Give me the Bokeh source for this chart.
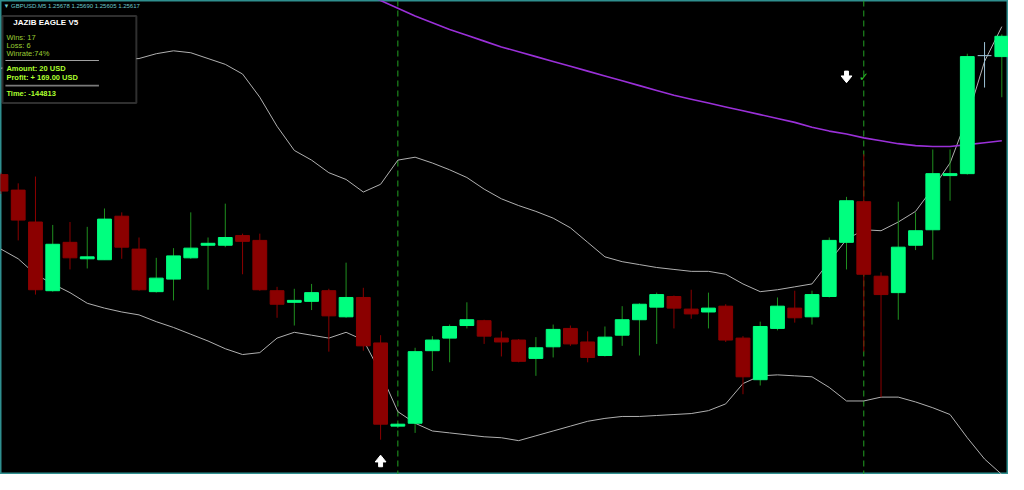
from bokeh.plotting import figure
from bokeh.models import Range1d, Span, BoxAnnotation, Label
from bokeh.core.properties import value
from bokeh.embed import file_html
from bokeh.resources import INLINE

# ---------------- data (GBPUSD M5) ----------------
idx = list(range(59))
open_ = [1.25910, 1.25894, 1.25861, 1.25790, 1.25840, 1.25823, 1.25822, 1.25867, 1.25833, 1.25789,
         1.25802, 1.25824, 1.25837, 1.25837, 1.25847, 1.25842, 1.25790, 1.25778, 1.25779, 1.25790,
         1.25763, 1.25783, 1.25736, 1.25650, 1.25653, 1.25728, 1.25741, 1.25754, 1.25759, 1.25741,
         1.25739, 1.25720, 1.25732, 1.25751, 1.25737, 1.25723, 1.25744, 1.25760, 1.25773, 1.25784,
         1.25771, 1.25768, 1.25774, 1.25741, 1.25698, 1.25751, 1.25772, 1.25763, 1.25784, 1.25840,
         1.25882, 1.25805, 1.25788, 1.25837, 1.25853, 1.25909, 1.25911, 1.26033, 1.26032]
high = [1.25912, 1.25901, 1.25908, 1.25858, 1.25861, 1.25856, 1.25875, 1.25871, 1.25845, 1.25824,
        1.25834, 1.25871, 1.25845, 1.25880, 1.25849, 1.25849, 1.25794, 1.25792, 1.25797, 1.25792,
        1.25819, 1.25793, 1.25744, 1.25653, 1.25731, 1.25743, 1.25755, 1.25778, 1.25760, 1.25748,
        1.25740, 1.25742, 1.25755, 1.25754, 1.25748, 1.25753, 1.25774, 1.25777, 1.25788, 1.25785,
        1.25791, 1.25788, 1.25776, 1.25743, 1.25758, 1.25783, 1.25790, 1.25790, 1.25845, 1.25887,
        1.25931, 1.25809, 1.25882, 1.25871, 1.25936, 1.25936, 1.26035, 1.26047, 1.26055]
low = [1.25890, 1.25842, 1.25786, 1.25789, 1.25812, 1.25813, 1.25822, 1.25823, 1.25790, 1.25788,
       1.25780, 1.25823, 1.25791, 1.25835, 1.25807, 1.25790, 1.25762, 1.25754, 1.25770, 1.25727,
       1.25762, 1.25728, 1.25636, 1.25648, 1.25643, 1.25707, 1.25716, 1.25751, 1.25735, 1.25722,
       1.25716, 1.25702, 1.25721, 1.25733, 1.25716, 1.25722, 1.25733, 1.25723, 1.25735, 1.25751,
       1.25761, 1.25751, 1.25737, 1.25683, 1.25692, 1.25749, 1.25757, 1.25755, 1.25783, 1.25812,
       1.25727, 1.25680, 1.25760, 1.25832, 1.25822, 1.25883, 1.25910, 1.26000, 1.25990]
close = [1.25893, 1.25863, 1.25791, 1.25838, 1.25824, 1.25825, 1.25864, 1.25835, 1.25791, 1.25803,
         1.25826, 1.25834, 1.25839, 1.25845, 1.25841, 1.25791, 1.25776, 1.25780, 1.25788, 1.25764,
         1.25783, 1.25733, 1.25652, 1.25652, 1.25727, 1.25739, 1.25753, 1.25760, 1.25743, 1.25737,
         1.25717, 1.25731, 1.25750, 1.25735, 1.25721, 1.25742, 1.25760, 1.25776, 1.25786, 1.25772,
         1.25766, 1.25772, 1.25739, 1.25701, 1.25753, 1.25774, 1.25762, 1.25786, 1.25842, 1.25883,
         1.25807, 1.25786, 1.25835, 1.25852, 1.25911, 1.25911, 1.26032, 1.26033, 1.26053]

bb_upper = [1.26020, 1.26022, 1.26024, 1.26026, 1.26026, 1.26027, 1.26028, 1.26029, 1.26030, 1.26035,
            1.26038, 1.26036, 1.26030, 1.26024, 1.26014, 1.25990, 1.25960, 1.25935, 1.25925, 1.25912,
            1.25905, 1.25892, 1.25900, 1.25925, 1.25928, 1.25922, 1.25915, 1.25907, 1.25895, 1.25885,
            1.25878, 1.25872, 1.25865, 1.25855, 1.25840, 1.25825, 1.25820, 1.25817, 1.25814, 1.25812,
            1.25810, 1.25810, 1.25807, 1.25797, 1.25789, 1.25791, 1.25794, 1.25797, 1.25820, 1.25843,
            1.25853, 1.25852, 1.25861, 1.25872, 1.25896, 1.25922, 1.25969, 1.26027, 1.26063]
bb_lower = [1.25833, 1.25823, 1.25807, 1.25797, 1.25788, 1.25777, 1.25772, 1.25768, 1.25765, 1.25758,
            1.25752, 1.25745, 1.25738, 1.25730, 1.25724, 1.25726, 1.25741, 1.25747, 1.25744, 1.25741,
            1.25747, 1.25739, 1.25705, 1.25665, 1.25653, 1.25645, 1.25643, 1.25641, 1.25639, 1.25638,
            1.25635, 1.25640, 1.25645, 1.25650, 1.25655, 1.25658, 1.25660, 1.25660, 1.25661, 1.25662,
            1.25663, 1.25666, 1.25673, 1.25694, 1.25702, 1.25703, 1.25702, 1.25701, 1.25690, 1.25676,
            1.25676, 1.25680, 1.25680, 1.25675, 1.25669, 1.25662, 1.25638, 1.25616, 1.25600]

ma_idx = list(range(21, 59))
ma_val = [1.26097, 1.26090, 1.26082, 1.26074, 1.26067, 1.26060, 1.26054, 1.26048, 1.26042, 1.26037,
          1.26032, 1.26027, 1.26022, 1.26017, 1.26012, 1.26007, 1.26002, 1.25997, 1.25992, 1.25988,
          1.25984, 1.25980, 1.25976, 1.25972, 1.25968, 1.25964, 1.25959, 1.25955, 1.25952, 1.25948,
          1.25945, 1.25942, 1.25940, 1.25939, 1.25939, 1.25941, 1.25943, 1.25945]

buy_idx = [22]
buy_tip = [1.25620]
sell_idx = [49]
sell_tip = [1.26005]
entry_idx = [23, 50]
win_idx = [50]
win_level = [1.26011]

header_text = "\u25bc GBPUSD.M5  1.25678 1.25690 1.25605 1.25617"
panel_title = "JAZIB EAGLE V5"
stat_lines = ["Wins: 17", "Loss: 6", "Winrate:74%"]
money_lines = ["Amount: 20 USD", "Profit: + 169.00 USD"]
time_line = "Time:  -144813"

# ---------------- styling / helpers ----------------
BULL = "#00ff7f"
BULL_WICK = "#1f8f1f"
BEAR = "#8b0000"
DOJI = "#9ec4d8"
BAND = "#b0b0b0"
MA_COL = "#9a30d8"
PX_PER_BAR = 17.53
PX0 = 0.47
PRICE_TOP = 1.26090
PRICE_PER_PX = 0.00001


def px2x(px):
    return (px - PX0) / PX_PER_BAR


def py2y(py):
    return PRICE_TOP - py * PRICE_PER_PX


W, H = 1008, 474
p = figure(width=W, height=H, output_backend="svg", toolbar_location=None,
           x_range=Range1d(px2x(0), px2x(1024)), y_range=Range1d(py2y(490), py2y(0)),
           x_axis_location=None, y_axis_location=None, min_border=0,
           background_fill_color="black", border_fill_color="black")
p.grid.visible = False
p.outline_line_color = "#2f8f8f"
p.outline_line_width = 2

# entry lines (behind candles)
for k in entry_idx:
    p.add_layout(Span(location=k, dimension="height", line_color="#22a022",
                      line_dash="6 4", line_width=1, level="underlay"))

# bands and moving average
p.line(idx, bb_upper, line_color=BAND, line_width=1)
p.line(idx, bb_lower, line_color=BAND, line_width=1)
p.line(ma_idx, ma_val, line_color=MA_COL, line_width=1.6)

# candles
for k in idx:
    o, h, l, c = open_[k], high[k], low[k], close[k]
    if c > o:
        body, wick = BULL, BULL_WICK
    elif c < o:
        body, wick = BEAR, BEAR
    else:
        body, wick = DOJI, DOJI
    p.segment(x0=[k], y0=[l], x1=[k], y1=[h], line_color=wick, line_width=1)
    if c == o:
        p.segment(x0=[k - 0.4], y0=[o], x1=[k + 0.4], y1=[o], line_color=body, line_width=1)
    else:
        p.vbar(x=[k], width=0.8, top=[max(o, c)], bottom=[min(o, c)],
               fill_color=body, line_color=body if c < o else BULL, line_width=1)

# signal arrows
HEAD_W = 5.5 / PX_PER_BAR
SHAFT_W = 2.0 / PX_PER_BAR
HEAD_H = 7 * PRICE_PER_PX
ARR_L = 12 * PRICE_PER_PX


def arrow(k, tip, d):
    xs = [k, k + HEAD_W, k + SHAFT_W, k + SHAFT_W, k - SHAFT_W, k - SHAFT_W, k - HEAD_W]
    ys = [tip, tip - d * HEAD_H, tip - d * HEAD_H, tip - d * ARR_L, tip - d * ARR_L,
          tip - d * HEAD_H, tip - d * HEAD_H]
    return xs, ys


axs, ays = [], []
for k, t in zip(buy_idx, buy_tip):
    a, b = arrow(k, t, 1)
    axs.append(a); ays.append(b)
for k, t in zip(sell_idx, sell_tip):
    a, b = arrow(k, t, -1)
    axs.append(a); ays.append(b)
p.patches(axs, ays, fill_color="white", line_color="white", line_width=1)

p.text(x=win_idx, y=win_level, text=["\u2713"] * len(win_idx), text_color="#2ec02e",
       text_font=value("DejaVu Sans"), text_font_size="12px", text_align="center",
       text_baseline="middle")

# header
p.add_layout(Label(x=px2x(3), y=py2y(5.5), text=header_text, text_color="#6cc8cc",
                   text_font="Liberation Sans", text_font_size="6px", text_baseline="middle"))

# info panel
p.add_layout(BoxAnnotation(left=px2x(2), right=px2x(138), top=py2y(16), bottom=py2y(106),
                           fill_color="black", fill_alpha=1.0, line_color="#9a9a9a", line_width=2))
p.add_layout(BoxAnnotation(left=px2x(5), right=px2x(100), top=py2y(61.5), bottom=py2y(62.5),
                           fill_color="#a0a0a0", fill_alpha=1.0, line_alpha=0))
p.add_layout(BoxAnnotation(left=px2x(5), right=px2x(100), top=py2y(87), bottom=py2y(89),
                           fill_color="#7a7a7a", fill_alpha=1.0, line_alpha=0))

p.add_layout(Label(x=px2x(13), y=py2y(22.5), text=panel_title, text_color="white",
                   text_font="Liberation Sans", text_font_size="8px", text_font_style="bold",
                   text_baseline="middle"))
for t, yy in zip(stat_lines, [38, 46.5, 55]):
    p.add_layout(Label(x=px2x(6), y=py2y(yy), text=t, text_color="#9acd32",
                       text_font="Liberation Sans", text_font_size="7.5px", text_baseline="middle"))
for t, yy in zip(money_lines, [70.5, 80]):
    p.add_layout(Label(x=px2x(6), y=py2y(yy), text=t, text_color="#adff2f",
                       text_font="Liberation Sans", text_font_size="7.5px", text_font_style="bold",
                       text_baseline="middle"))
p.add_layout(Label(x=px2x(6), y=py2y(96.5), text=time_line, text_color="#adff2f",
                   text_font="Liberation Sans", text_font_size="7.5px", text_font_style="bold",
                   text_baseline="middle"))

open("out.html", "w").write(file_html(p, INLINE))
